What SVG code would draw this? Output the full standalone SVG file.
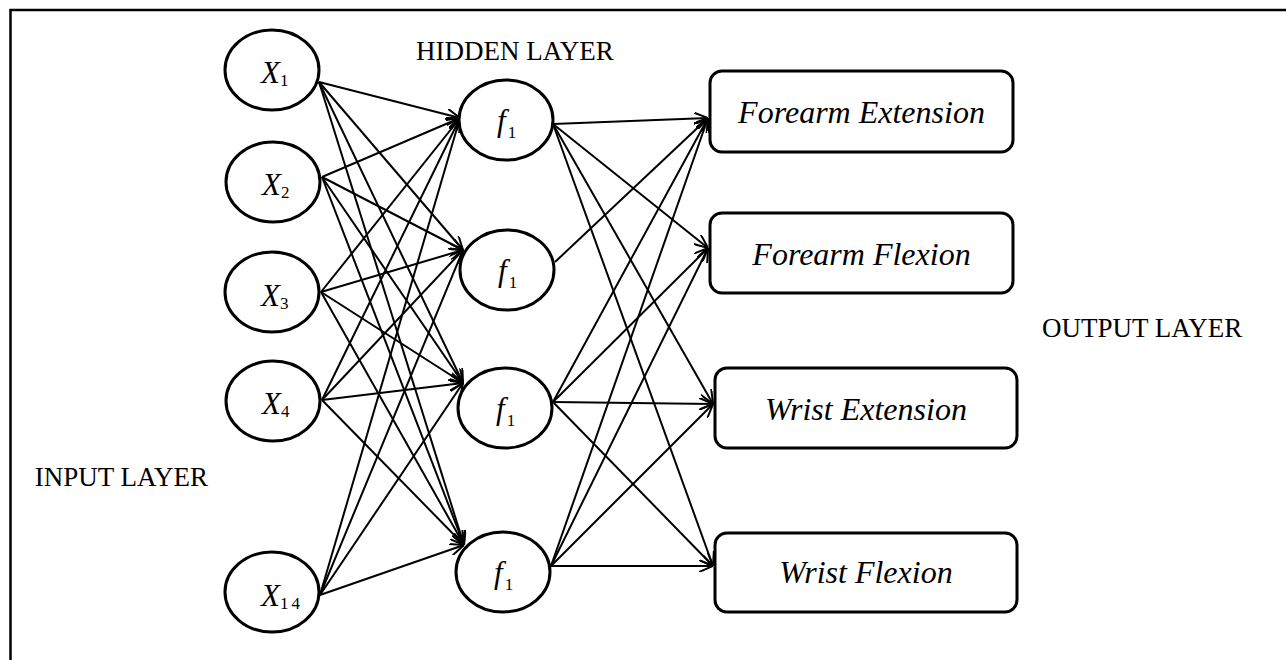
<svg xmlns="http://www.w3.org/2000/svg" width="1286" height="660" viewBox="0 0 1286 660">
<style>
.node{fill:#fff;stroke:#000;stroke-width:3}
.edge{stroke:#000;stroke-width:2;fill:none;marker-end:url(#arr)}
.lbl{font-family:"Liberation Serif",serif;font-size:27px;fill:#000}
.box{font-family:"Liberation Serif",serif;font-style:italic;font-size:32px;fill:#000;text-anchor:middle}
.var{font-family:"Liberation Serif",serif;font-style:italic;font-size:31px;fill:#000}
.sub{font-family:"Liberation Serif",serif;font-style:normal;font-size:17px}
</style>
<defs>
<marker id="arr" viewBox="0 0 14 12" refX="14" refY="6" markerWidth="14" markerHeight="12" markerUnits="userSpaceOnUse" orient="auto">
<path d="M0,0 L14,6 L0,12" fill="none" stroke="#000" stroke-width="2"/>
</marker>
</defs>
<rect width="1286" height="660" fill="#fff"/>
<path d="M10.5,660 V10 H1286" fill="none" stroke="#000" stroke-width="2.5"/>
<g id="connectors">
<line class="edge" x1="319" y1="82" x2="460" y2="118"/>
<line class="edge" x1="319" y1="82" x2="463" y2="250"/>
<line class="edge" x1="319" y1="82" x2="463" y2="383"/>
<line class="edge" x1="319" y1="82" x2="464" y2="545"/>
<line class="edge" x1="322" y1="177" x2="460" y2="118"/>
<line class="edge" x1="322" y1="177" x2="463" y2="250"/>
<line class="edge" x1="322" y1="177" x2="463" y2="383"/>
<line class="edge" x1="322" y1="177" x2="464" y2="545"/>
<line class="edge" x1="321" y1="292" x2="460" y2="118"/>
<line class="edge" x1="321" y1="292" x2="463" y2="250"/>
<line class="edge" x1="321" y1="292" x2="463" y2="383"/>
<line class="edge" x1="321" y1="292" x2="464" y2="545"/>
<line class="edge" x1="322" y1="400" x2="460" y2="118"/>
<line class="edge" x1="322" y1="400" x2="463" y2="250"/>
<line class="edge" x1="322" y1="400" x2="463" y2="383"/>
<line class="edge" x1="322" y1="400" x2="464" y2="545"/>
<line class="edge" x1="320" y1="595" x2="460" y2="118"/>
<line class="edge" x1="320" y1="595" x2="463" y2="250"/>
<line class="edge" x1="320" y1="595" x2="463" y2="383"/>
<line class="edge" x1="320" y1="595" x2="464" y2="545"/>
<line class="edge" x1="553" y1="124" x2="708" y2="118"/>
<line class="edge" x1="553" y1="124" x2="708" y2="248"/>
<line class="edge" x1="553" y1="124" x2="713" y2="404"/>
<line class="edge" x1="553" y1="124" x2="713" y2="566"/>
<line class="edge" x1="555" y1="262" x2="708" y2="118"/>
<line class="edge" x1="553" y1="402" x2="708" y2="118"/>
<line class="edge" x1="553" y1="402" x2="708" y2="248"/>
<line class="edge" x1="553" y1="402" x2="713" y2="404"/>
<line class="edge" x1="553" y1="402" x2="713" y2="566"/>
<line class="edge" x1="551" y1="566" x2="708" y2="118"/>
<line class="edge" x1="551" y1="566" x2="708" y2="248"/>
<line class="edge" x1="551" y1="566" x2="713" y2="404"/>
<line class="edge" x1="551" y1="566" x2="713" y2="566"/>
</g>
<g id="x1"><ellipse class="node" cx="272" cy="70" rx="47" ry="40"/><text class="var" x="261" y="83">X<tspan class="sub" dy="3">1</tspan></text></g>
<g id="x2"><ellipse class="node" cx="273" cy="182" rx="47" ry="40"/><text class="var" x="262" y="195">X<tspan class="sub" dy="3">2</tspan></text></g>
<g id="x3"><ellipse class="node" cx="272" cy="292" rx="47" ry="40"/><text class="var" x="261" y="306">X<tspan class="sub" dy="3">3</tspan></text></g>
<g id="x4"><ellipse class="node" cx="273" cy="401" rx="47" ry="40"/><text class="var" x="262" y="414">X<tspan class="sub" dy="3">4</tspan></text></g>
<g id="x14"><ellipse class="node" cx="272" cy="592" rx="47" ry="40"/><text class="var" x="261" y="606">X<tspan class="sub" dy="3" letter-spacing="3">14</tspan></text></g>
<g id="h1"><ellipse class="node" cx="506" cy="120" rx="47" ry="40"/><text class="var" x="497" y="131">f<tspan class="sub" dx="2" dy="7">1</tspan></text></g>
<g id="h2"><ellipse class="node" cx="507" cy="270" rx="47" ry="40"/><text class="var" x="498" y="281">f<tspan class="sub" dx="2" dy="7">1</tspan></text></g>
<g id="h3"><ellipse class="node" cx="505" cy="408" rx="47" ry="40"/><text class="var" x="496" y="419">f<tspan class="sub" dx="2" dy="7">1</tspan></text></g>
<g id="h4"><ellipse class="node" cx="503" cy="572" rx="47" ry="40"/><text class="var" x="494" y="583">f<tspan class="sub" dx="2" dy="7">1</tspan></text></g>
<g id="out-fe"><rect class="node" x="710" y="71" width="303" height="81" rx="12"/><text class="box" x="861.5" y="123">Forearm Extension</text></g>
<g id="out-ff"><rect class="node" x="710" y="213" width="303" height="80" rx="12"/><text class="box" x="861.5" y="265">Forearm Flexion</text></g>
<g id="out-we"><rect class="node" x="715" y="368" width="302" height="80" rx="12"/><text class="box" x="866" y="420">Wrist Extension</text></g>
<g id="out-wf"><rect class="node" x="715" y="533" width="302" height="79" rx="12"/><text class="box" x="866" y="583">Wrist Flexion</text></g>
<text class="lbl" x="416" y="60">HIDDEN LAYER</text>
<text class="lbl" x="1042" y="337">OUTPUT LAYER</text>
<text class="lbl" x="208" y="486" text-anchor="end">INPUT LAYER</text>
</svg>
